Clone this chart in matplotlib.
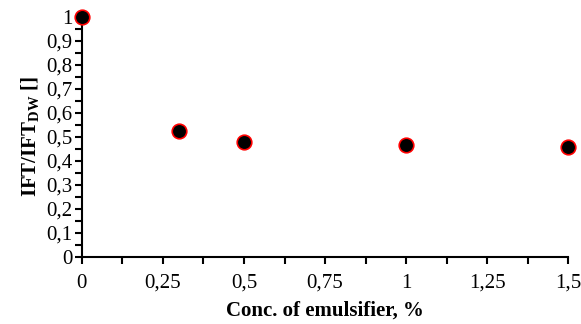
import matplotlib
matplotlib.use("Agg")
import matplotlib.pyplot as plt
from matplotlib.ticker import MultipleLocator, FuncFormatter

conc = [0, 0.3, 0.5, 1.0, 1.5]
ift_ratio = [1.0, 0.525, 0.48, 0.468, 0.456]

plt.rcParams['font.family'] = 'Liberation Serif'
plt.rcParams['mathtext.fontset'] = 'custom'
plt.rcParams['mathtext.rm'] = 'Liberation Serif:bold'
plt.rcParams['mathtext.bf'] = 'Liberation Serif:bold'

fig = plt.figure(figsize=(5.81, 3.24), dpi=100)
ax = fig.add_axes([0.141, 0.207, 0.837, 0.741])

ax.plot(conc, ift_ratio, linestyle='none', marker='o', markersize=10.5,
        markerfacecolor='black', markeredgecolor='red', markeredgewidth=1.2,
        clip_on=False, zorder=5)

ax.set_xlim(0, 1.5)
ax.set_ylim(0, 1.0)
ax.xaxis.set_major_locator(MultipleLocator(0.25))
ax.xaxis.set_minor_locator(MultipleLocator(0.125))
ax.yaxis.set_major_locator(MultipleLocator(0.1))
ax.yaxis.set_minor_locator(MultipleLocator(0.05))

def fmt(v, pos):
    s = ('%.2f' % v).rstrip('0').rstrip('.')
    return s.replace('.', ',')
ax.xaxis.set_major_formatter(FuncFormatter(fmt))
ax.yaxis.set_major_formatter(FuncFormatter(fmt))

for s in ['top', 'right']:
    ax.spines[s].set_visible(False)
for s in ['left', 'bottom']:
    ax.spines[s].set_linewidth(1.5)

ax.tick_params(axis='both', which='both', direction='out', width=1.5, length=5, labelsize=15)
ax.tick_params(axis='x', pad=7)
ax.tick_params(axis='y', pad=2)

ax.set_xlabel('Conc. of emulsifier, %', fontsize=15, fontweight='bold', labelpad=6)
ax.set_ylabel(r'IFT/IFT$_{\mathrm{DW}}$ []', fontsize=15, fontweight='bold', labelpad=3)

fig.savefig('out.png', dpi=100)
